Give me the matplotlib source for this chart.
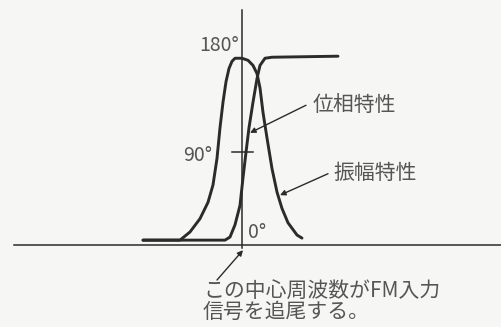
import numpy as np
import matplotlib.pyplot as plt

plt.rcParams['font.family'] = ['Noto Sans CJK JP', 'DejaVu Sans']

# 振幅特性 (bell curve): frequency offset vs. level (in degree scale units)
freq_amp = [-9.9, -6.2, -5.2, -4.2, -3.4, -2.9, -2.5, -2.2, -1.9, -1.6, -1.3,
            -1.0, -0.7, 0.0, 0.6, 1.1, 1.5, 1.8, 2.1, 2.5, 3.0, 3.5, 4.0,
            4.6, 5.5, 6.0]
amp_deg = [0, 0, 8, 21, 37, 54, 80, 110, 135, 155, 168,
           175, 178, 178, 176, 171, 163, 149, 125, 100, 70, 47, 31,
           17, 5, 2]

# 位相特性 (S curve)
freq_phase = [-9.9, -1.7, -1.2, -0.7, -0.2, 0.1, 0.4, 0.7, 1.1, 1.5, 1.8,
              2.3, 3.0, 9.6]
phase_deg = [0, 0, 3, 15, 34, 61, 86, 110, 135, 158, 171,
             178, 179, 180]

deg_labels = ['180°', '90°', '0°']

ink = '#2b2b2b'
txt = '#555555'

fig = plt.figure(figsize=(5.02, 3.27), dpi=100)
fig.patch.set_facecolor('#f6f6f4')
ax = fig.add_axes([0, 0, 1, 1])
ax.set_facecolor('#f6f6f4')
ax.set_xlim(-24.2, 26)
ax.set_ylim(-85, 235)
ax.axis('off')

# 軸
ax.plot([-22.8, 26], [-4.9, -4.9], color=ink, lw=1.1)
ax.plot([0, 0], [-7.8, 225], color=ink, lw=1.1)
ax.plot([-1.0, 1.1], [86, 86], color=ink, lw=1.1)

# 曲線
ax.plot(freq_amp, amp_deg, color=ink, lw=2.1, solid_capstyle='round',
        solid_joinstyle='round')
ax.plot(freq_phase, phase_deg, color=ink, lw=2.1, solid_capstyle='round',
        solid_joinstyle='round')

# 目盛ラベル
ax.text(-0.3, 190, deg_labels[0], ha='right', va='center', fontsize=14, color=txt)
ax.text(-3.0, 83, deg_labels[1], ha='right', va='center', fontsize=14, color=txt)
ax.text(0.6, 7, deg_labels[2], ha='left', va='center', fontsize=14, color=txt)

arrow = dict(arrowstyle='-|>', color=ink, lw=1.0, mutation_scale=8, shrinkA=0, shrinkB=0)

ax.annotate('', xy=(0.8, 105), xytext=(6.4, 132), arrowprops=arrow)
ax.text(7.1, 132, '位相特性', ha='left', va='center', fontsize=15, color=txt)

ax.annotate('', xy=(3.8, 44), xytext=(8.6, 65), arrowprops=arrow)
ax.text(9.1, 66, '振幅特性', ha='left', va='center', fontsize=15, color=txt)

ax.annotate('', xy=(0.1, -9.8), xytext=(-2.5, -39), arrowprops=arrow)
ax.text(-3.9, -50, 'この中心周波数がFM入力', ha='left', va='center', fontsize=15, color=txt)
ax.text(-3.9, -70.5, '信号を追尾する。', ha='left', va='center', fontsize=15, color=txt)

fig.savefig('out.png', dpi=100, facecolor=fig.get_facecolor())
